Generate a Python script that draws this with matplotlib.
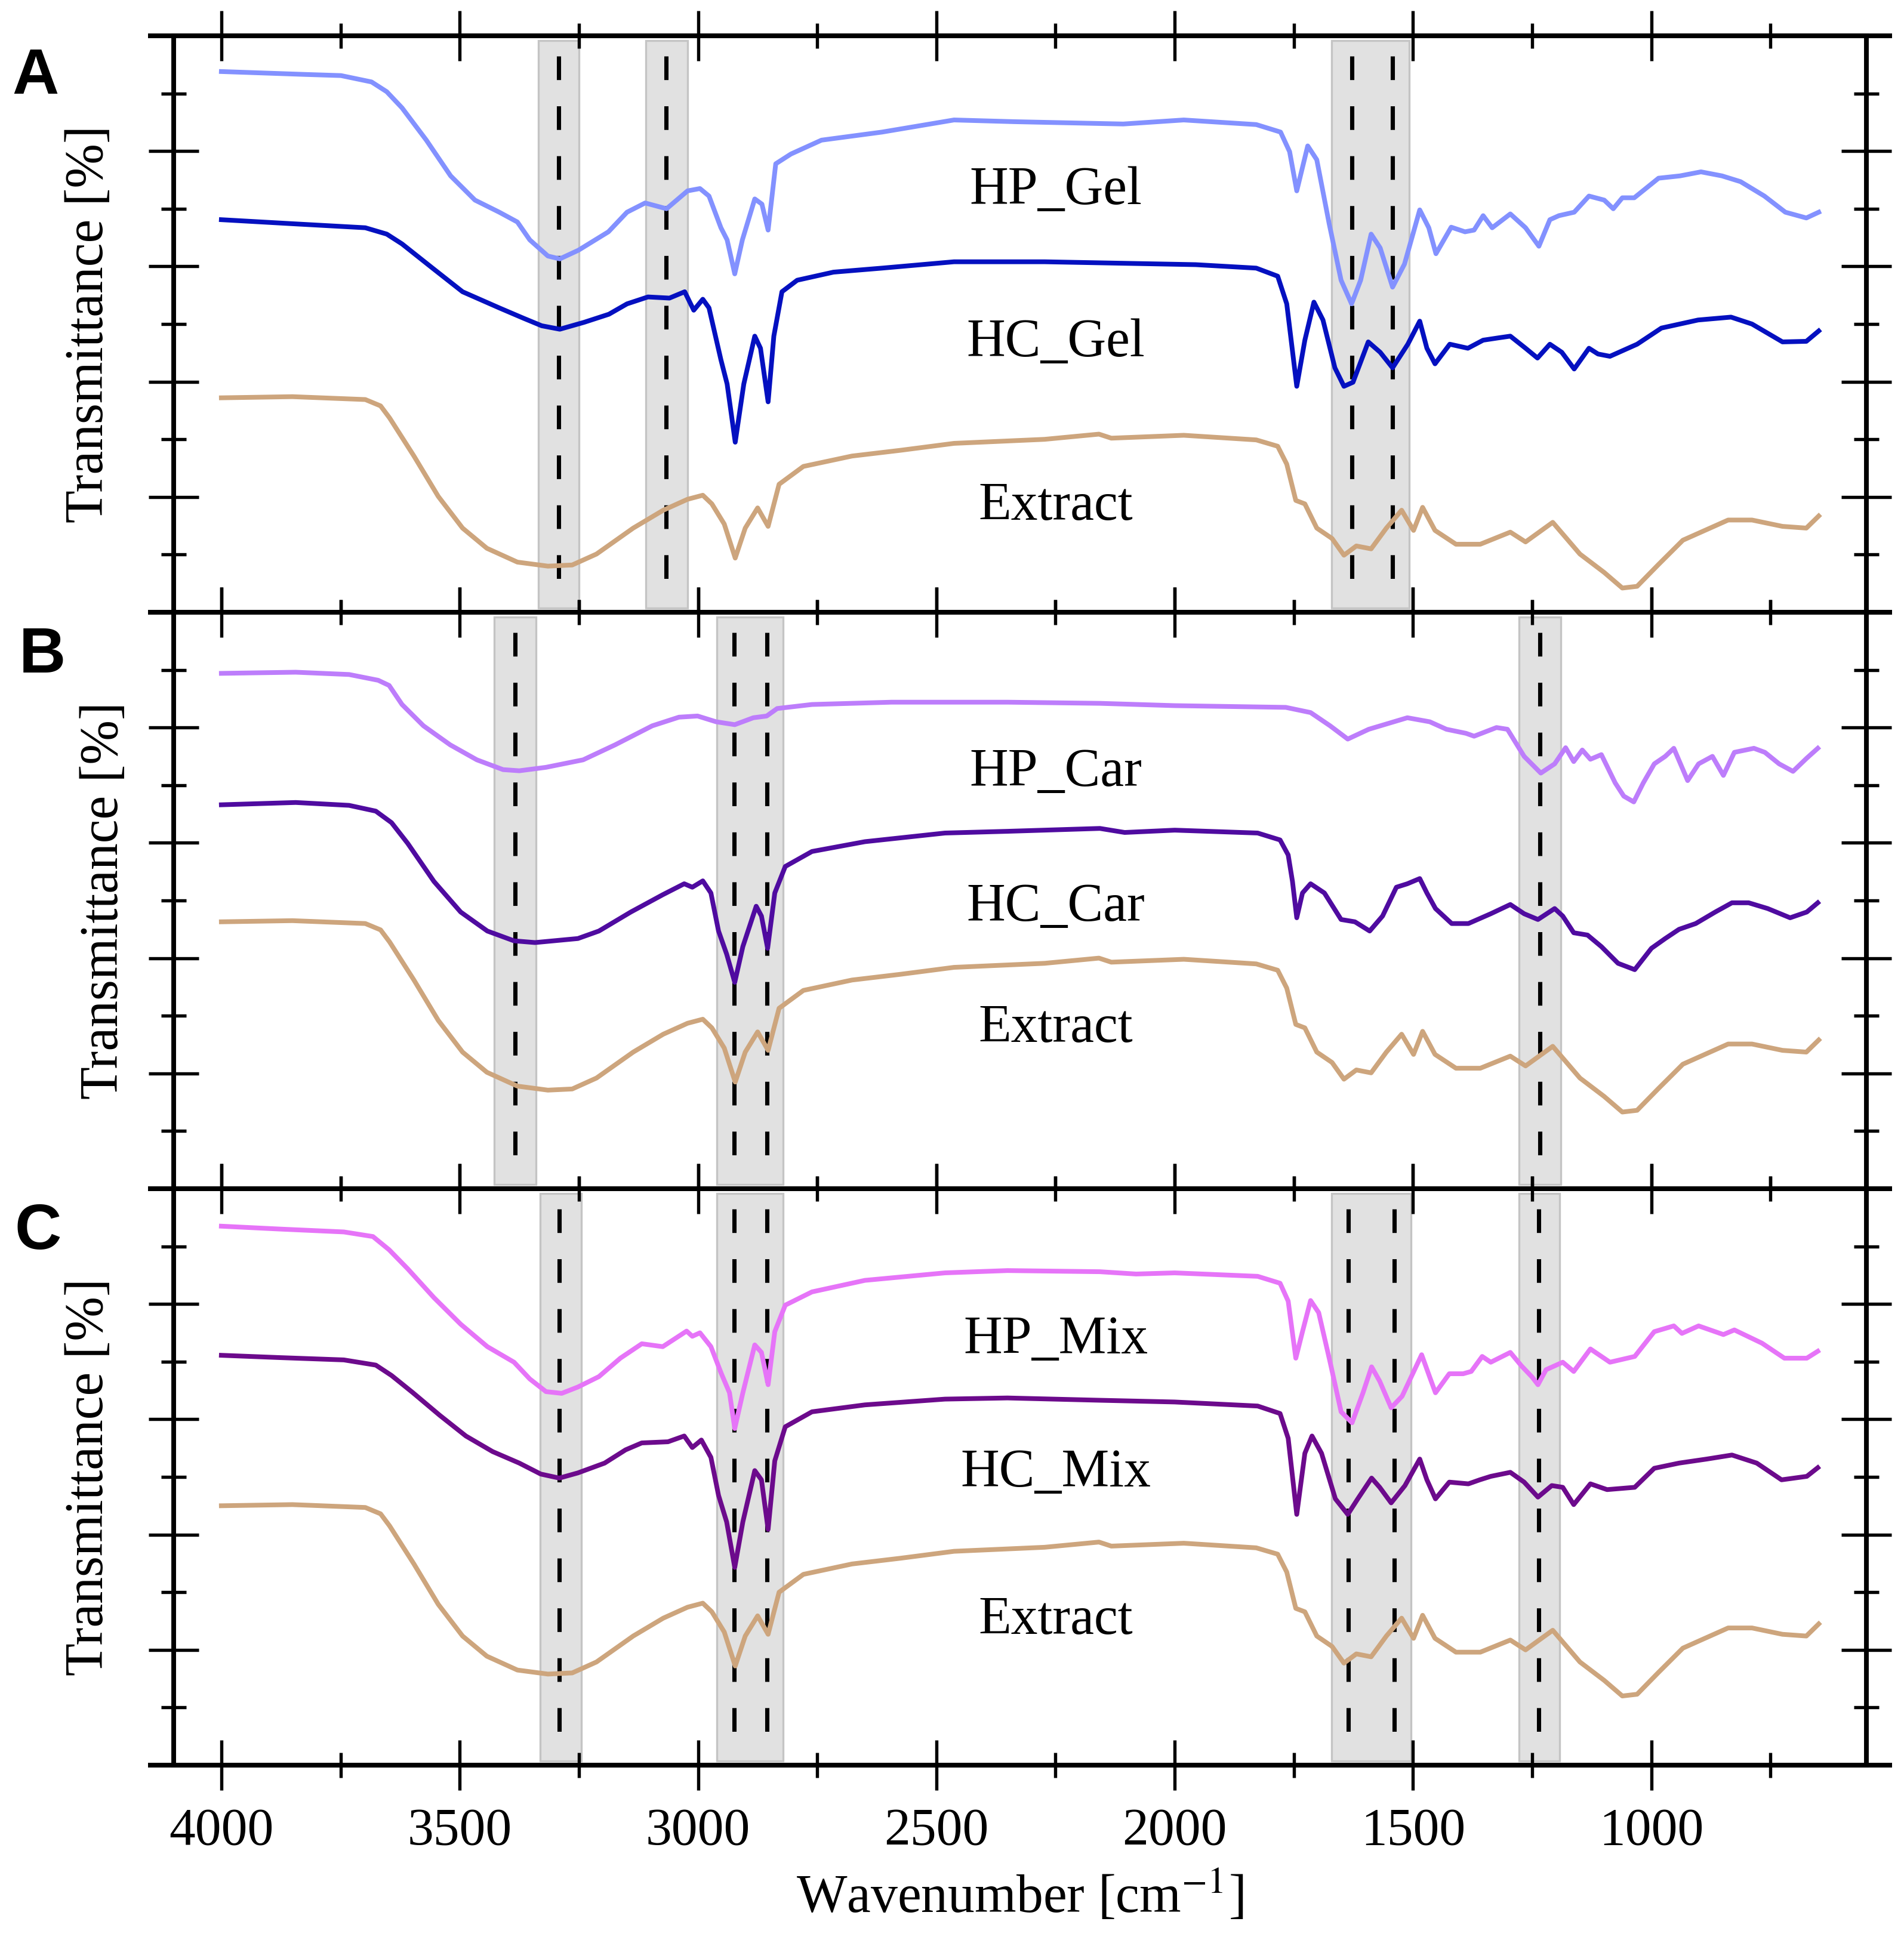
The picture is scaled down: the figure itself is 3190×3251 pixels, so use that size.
#FTIR spectra, three stacked panels (A gel, B carbopol, C mix)
#y is in tick units of each panel, 0 at the bottom spine and 10 at the top one

import numpy as np
import matplotlib.pyplot as plt

SERIF = 'Liberation Serif'
plt.rcParams['font.family'] = [SERIF, 'DejaVu Serif']
plt.rcParams['mathtext.fontset'] = 'stix'

# spectra, (wavenumber, value)
HP_GEL = [(4000, 9.38), (3825, 9.33), (3749, 9.31), (3685, 9.20), (3653, 9.03), (3621, 8.75),
          (3570, 8.19), (3519, 7.57), (3468, 7.15), (3417, 6.94), (3379, 6.77), (3353, 6.46),
          (3315, 6.18), (3290, 6.13), (3251, 6.28), (3188, 6.60), (3149, 6.94), (3111, 7.10),
          (3066, 7.00), (3022, 7.31), (2996, 7.35), (2977, 7.22), (2952, 6.67), (2939, 6.46),
          (2923, 5.87), (2907, 6.46), (2881, 7.17), (2866, 7.08), (2853, 6.63), (2837, 7.78),
          (2805, 7.95), (2741, 8.19), (2614, 8.33), (2463, 8.54), (2336, 8.51), (2108, 8.47),
          (1981, 8.54), (1829, 8.46), (1778, 8.33), (1759, 7.99), (1744, 7.31), (1721, 8.09),
          (1702, 7.85), (1676, 6.74), (1651, 5.76), (1629, 5.35), (1610, 5.76), (1588, 6.56),
          (1569, 6.32), (1543, 5.64), (1518, 6.04), (1486, 6.98), (1467, 6.67), (1452, 6.22),
          (1420, 6.68), (1391, 6.60), (1372, 6.63), (1353, 6.88), (1334, 6.67), (1296, 6.91),
          (1264, 6.67), (1236, 6.35), (1213, 6.81), (1194, 6.88), (1162, 6.94), (1131, 7.22),
          (1099, 7.15), (1080, 7.00), (1061, 7.19), (1036, 7.19), (985, 7.53), (940, 7.57),
          (896, 7.64), (852, 7.57), (813, 7.47), (763, 7.22), (719, 6.94), (675, 6.84), (649, 6.94)]

HC_GEL = [(4000, 6.81), (3851, 6.74), (3698, 6.67), (3653, 6.56), (3621, 6.39), (3557, 5.97),
          (3494, 5.56), (3417, 5.28), (3366, 5.10), (3328, 4.97), (3290, 4.91), (3239, 5.03),
          (3187, 5.17), (3149, 5.35), (3105, 5.47), (3060, 5.45), (3028, 5.56), (3009, 5.24),
          (2990, 5.43), (2977, 5.28), (2952, 4.38), (2939, 3.96), (2922, 2.95), (2904, 3.96),
          (2881, 4.79), (2869, 4.58), (2853, 3.65), (2841, 4.79), (2824, 5.56), (2792, 5.76),
          (2716, 5.90), (2614, 5.97), (2463, 6.08), (2273, 6.08), (2146, 6.06), (1956, 6.03),
          (1829, 5.97), (1784, 5.83), (1765, 5.35), (1744, 3.92), (1727, 4.72), (1708, 5.38),
          (1689, 5.07), (1664, 4.24), (1645, 3.92), (1626, 3.99), (1594, 4.69), (1569, 4.51),
          (1543, 4.24), (1511, 4.65), (1486, 5.05), (1471, 4.58), (1454, 4.31), (1423, 4.65),
          (1385, 4.58), (1353, 4.72), (1321, 4.76), (1296, 4.79), (1264, 4.58), (1239, 4.41),
          (1213, 4.65), (1188, 4.51), (1162, 4.22), (1131, 4.58), (1112, 4.48), (1087, 4.44),
          (1030, 4.65), (979, 4.93), (902, 5.07), (833, 5.12), (789, 5.00), (725, 4.69),
          (675, 4.70), (649, 4.88)]

EXTRACT = [(4000, 3.72), (3851, 3.74), (3698, 3.69), (3666, 3.58), (3647, 3.37), (3596, 2.71),
           (3545, 2.01), (3494, 1.46), (3443, 1.11), (3379, 0.87), (3315, 0.80), (3264, 0.82),
           (3213, 1.01), (3136, 1.46), (3073, 1.77), (3022, 1.96), (2990, 2.03), (2971, 1.88),
           (2945, 1.53), (2922, 0.94), (2901, 1.46), (2875, 1.81), (2853, 1.49), (2830, 2.22),
           (2779, 2.53), (2677, 2.71), (2575, 2.81), (2463, 2.93), (2273, 3.00), (2159, 3.09),
           (2133, 3.02), (1981, 3.07), (1829, 2.99), (1784, 2.88), (1765, 2.57), (1746, 1.94),
           (1727, 1.88), (1702, 1.46), (1670, 1.28), (1645, 0.99), (1619, 1.15), (1588, 1.10),
           (1556, 1.46), (1524, 1.77), (1499, 1.42), (1480, 1.82), (1454, 1.42), (1410, 1.18),
           (1359, 1.18), (1296, 1.39), (1264, 1.22), (1207, 1.56), (1150, 1.01), (1099, 0.69),
           (1061, 0.42), (1030, 0.45), (985, 0.83), (934, 1.25), (839, 1.60), (789, 1.60),
           (725, 1.49), (675, 1.46), (649, 1.67)]

HP_CAR = [(4000, 8.94), (3844, 8.96), (3732, 8.92), (3671, 8.82), (3648, 8.73), (3621, 8.40),
          (3576, 8.03), (3520, 7.70), (3464, 7.44), (3409, 7.27), (3375, 7.25), (3319, 7.31),
          (3241, 7.44), (3174, 7.70), (3096, 8.03), (3040, 8.18), (3001, 8.20), (2962, 8.10),
          (2923, 8.05), (2884, 8.17), (2856, 8.20), (2834, 8.33), (2761, 8.40), (2594, 8.44),
          (2351, 8.44), (2157, 8.42), (2000, 8.38), (1767, 8.35), (1715, 8.26), (1674, 8.03),
          (1637, 7.80), (1593, 7.97), (1512, 8.17), (1465, 8.10), (1430, 7.97), (1389, 7.90),
          (1372, 7.85), (1325, 8.00), (1302, 7.97), (1267, 7.50), (1232, 7.21), (1203, 7.37),
          (1180, 7.65), (1163, 7.41), (1145, 7.61), (1128, 7.45), (1105, 7.53), (1076, 7.04),
          (1058, 6.81), (1037, 6.71), (1017, 7.04), (994, 7.37), (971, 7.50), (953, 7.64),
          (924, 7.08), (901, 7.37), (872, 7.50), (849, 7.17), (826, 7.57), (785, 7.64),
          (762, 7.57), (732, 7.37), (703, 7.24), (674, 7.47), (651, 7.64)]

HC_CAR = [(4000, 6.66), (3844, 6.70), (3732, 6.65), (3676, 6.55), (3643, 6.35), (3609, 5.99),
          (3554, 5.33), (3498, 4.80), (3442, 4.47), (3386, 4.30), (3342, 4.27), (3252, 4.34),
          (3208, 4.47), (3141, 4.80), (3074, 5.10), (3029, 5.29), (3012, 5.23), (2990, 5.34),
          (2973, 5.13), (2957, 4.47), (2940, 4.07), (2923, 3.58), (2906, 4.20), (2878, 4.90),
          (2867, 4.73), (2854, 4.17), (2839, 5.13), (2817, 5.59), (2761, 5.85), (2650, 6.02),
          (2482, 6.17), (2351, 6.20), (2157, 6.25), (2105, 6.18), (2000, 6.22), (1826, 6.17),
          (1779, 6.05), (1762, 5.79), (1753, 5.33), (1744, 4.70), (1732, 5.13), (1715, 5.29),
          (1686, 5.13), (1651, 4.67), (1622, 4.63), (1591, 4.47), (1564, 4.73), (1535, 5.23),
          (1512, 5.29), (1486, 5.38), (1471, 5.13), (1453, 4.86), (1419, 4.60), (1384, 4.60),
          (1337, 4.77), (1296, 4.93), (1267, 4.77), (1238, 4.67), (1203, 4.86), (1186, 4.73),
          (1163, 4.44), (1134, 4.40), (1105, 4.20), (1070, 3.91), (1035, 3.80), (1000, 4.17),
          (971, 4.34), (942, 4.50), (907, 4.60), (866, 4.80), (831, 4.96), (796, 4.96),
          (756, 4.86), (709, 4.70), (674, 4.80), (651, 4.96)]

HP_MIX = [(4000, 9.35), (3877, 9.30), (3743, 9.25), (3682, 9.17), (3648, 8.94), (3609, 8.61),
          (3554, 8.11), (3498, 7.65), (3442, 7.26), (3386, 6.99), (3353, 6.70), (3319, 6.48),
          (3286, 6.45), (3252, 6.56), (3208, 6.74), (3163, 7.06), (3118, 7.31), (3074, 7.26),
          (3024, 7.53), (3012, 7.44), (2996, 7.50), (2973, 7.26), (2951, 6.79), (2934, 6.46),
          (2923, 5.84), (2906, 6.46), (2881, 7.29), (2867, 7.16), (2853, 6.60), (2839, 7.52),
          (2817, 7.98), (2761, 8.21), (2650, 8.41), (2482, 8.54), (2351, 8.58), (2157, 8.56),
          (2081, 8.52), (2000, 8.54), (1826, 8.48), (1779, 8.36), (1762, 8.05), (1746, 7.06),
          (1732, 7.52), (1715, 8.06), (1698, 7.85), (1674, 6.99), (1651, 6.13), (1628, 5.94),
          (1605, 6.46), (1587, 6.91), (1570, 6.66), (1546, 6.20), (1523, 6.40), (1482, 7.12),
          (1465, 6.73), (1453, 6.46), (1424, 6.79), (1395, 6.79), (1378, 6.83), (1355, 7.09),
          (1337, 6.99), (1296, 7.16), (1273, 6.93), (1250, 6.73), (1238, 6.60), (1221, 6.86),
          (1186, 6.99), (1163, 6.83), (1128, 7.22), (1087, 6.99), (1035, 7.09), (994, 7.52),
          (953, 7.62), (936, 7.49), (901, 7.62), (849, 7.47), (826, 7.55), (768, 7.32),
          (721, 7.06), (674, 7.06), (651, 7.18)]

HC_MIX = [(4000, 7.11), (3877, 7.07), (3743, 7.03), (3676, 6.94), (3643, 6.76), (3598, 6.46),
          (3542, 6.07), (3487, 5.71), (3431, 5.44), (3375, 5.24), (3330, 5.05), (3291, 4.98),
          (3252, 5.07), (3196, 5.24), (3152, 5.47), (3118, 5.59), (3063, 5.61), (3029, 5.71),
          (3012, 5.51), (2993, 5.64), (2973, 5.34), (2957, 4.68), (2940, 4.22), (2923, 3.43),
          (2906, 4.22), (2881, 5.11), (2867, 4.95), (2853, 4.09), (2839, 5.28), (2817, 5.87),
          (2761, 6.13), (2650, 6.25), (2482, 6.35), (2351, 6.37), (2157, 6.33), (2000, 6.30),
          (1826, 6.23), (1779, 6.10), (1762, 5.67), (1744, 4.35), (1727, 5.41), (1712, 5.71),
          (1692, 5.41), (1663, 4.62), (1637, 4.35), (1616, 4.62), (1587, 4.98), (1570, 4.82),
          (1546, 4.55), (1517, 4.85), (1486, 5.31), (1471, 4.95), (1453, 4.62), (1424, 4.91),
          (1384, 4.88), (1360, 4.95), (1337, 5.01), (1296, 5.08), (1267, 4.91), (1238, 4.65),
          (1209, 4.85), (1186, 4.82), (1163, 4.52), (1128, 4.88), (1093, 4.78), (1035, 4.82),
          (994, 5.15), (942, 5.24), (884, 5.31), (831, 5.38), (779, 5.24), (727, 4.95),
          (674, 5.01), (651, 5.16)]

# the extract trace is stacked a bit higher in B and C
EXTRACT_SHIFT = [0.0, 0.91, 0.78]

# grey bands (high, low wavenumber) and dashed peak lines per panel
BANDS = [[(3335, 3250), (3110, 3022), (1671, 1508)],
         [(3427, 3340), (2960, 2822), (1278, 1190)],
         [(3331, 3245), (2960, 2822), (1671, 1504), (1278, 1192)]]
PEAKS = [[3292, 3067, 1628, 1543],
         [3384, 2924, 2856, 1234],
         [3291, 2924, 2855, 1636, 1539, 1236]]

NAMES = [['HP_Gel', 'HC_Gel', 'Extract'],
         ['HP_Car', 'HC_Car', 'Extract'],
         ['HP_Mix', 'HC_Mix', 'Extract']]
NAME_Y = [[7.08, 4.44, 1.60],
          [6.99, 4.65, 2.55],
          [7.14, 4.83, 2.28]]
PANELS = ['A', 'B', 'C']

COLORS = [['#8391ff', '#0410c0', '#cda57d'],
          ['#bd7dfb', '#4f0ba0', '#cda57d'],
          ['#e674f8', '#6c0a8c', '#cda57d']]

SERIES = [[HP_GEL, HC_GEL, EXTRACT],
          [HP_CAR, HC_CAR, EXTRACT],
          [HP_MIX, HC_MIX, EXTRACT]]

W, H, DPI = 3190, 3251, 300
fig = plt.figure(figsize=(W / DPI, H / DPI), dpi=DPI)
left, right = 291 / W, 3127 / W
top, bottom = 1 - 60 / H, 1 - 2958 / H
ph = (top - bottom) / 3

letter_pos = [(20, 79), (32, 1049), (25, 2015)]
ylabel_x = [-0.0497, -0.0409, -0.0497]

for i in range(3):
    ax = fig.add_axes([left, top - (i + 1) * ph, right - left, ph])
    ax.set_xlim(4100, 549)
    ax.set_ylim(0, 10)

    # bands and dashed lines
    for hi, lo in BANDS[i]:
        ax.axvspan(lo, hi, ymin=0.007, ymax=0.992, facecolor='#e1e1e1',
                   edgecolor='#c4c4c4', linewidth=0.8, zorder=1)
    for p in PEAKS[i]:
        ax.plot([p, p], [9.65, 0.45], color='black', lw=1.7,
                dashes=(5.6, 6.2), zorder=2)

    # spectra
    for j in range(3):
        d = np.array(SERIES[i][j])
        y = d[:, 1] + (EXTRACT_SHIFT[i] if j == 2 else 0.0)
        ax.plot(d[:, 0], y, color=COLORS[i][j], lw=1.9, zorder=3,
                solid_joinstyle='round')
        ax.text(2250, NAME_Y[i][j], NAMES[i][j], ha='center', va='baseline',
                fontsize=21.5, family=SERIF, zorder=4)

    # axes look
    for s in ax.spines.values():
        s.set_linewidth(1.9)
    # horizontal frame lines stick out past the side spines
    for yy in (0, 1):
        ax.plot([-0.015, 1.015], [yy, yy], transform=ax.transAxes, color='black',
                lw=1.9, clip_on=False, solid_capstyle='butt', zorder=5)

    ax.set_xticks([4000, 3500, 3000, 2500, 2000, 1500, 1000])
    ax.set_xticks([3750, 3250, 2750, 2250, 1750, 1250, 750], minor=True)
    ax.set_yticks([2, 4, 6, 8])
    ax.set_yticks([1, 3, 5, 7, 9], minor=True)
    ax.tick_params(which='both', direction='inout', top=True, right=True,
                   width=1.3, labelleft=False, labelbottom=(i == 2))
    ax.tick_params(which='major', length=20, labelsize=21, pad=7,
                   labelfontfamily=SERIF)
    ax.tick_params(which='minor', length=10)

    ax.text(ylabel_x[i], 0.5, 'Transmittance [%]', rotation=90, ha='center',
            va='center', fontsize=21.5, family=SERIF, transform=ax.transAxes)

    lx, ly = letter_pos[i]
    fig.text(lx / W, 1 - ly / H, PANELS[i], ha='left', va='top', fontsize=26,
             fontweight='bold', family='Liberation Sans')

fig.text(1709 / W, 1 - 3205 / H, 'Wavenumber [cm$^{-1}$]', ha='center',
         va='baseline', fontsize=21.5, family=SERIF)

plt.savefig('out.png', dpi=DPI)
